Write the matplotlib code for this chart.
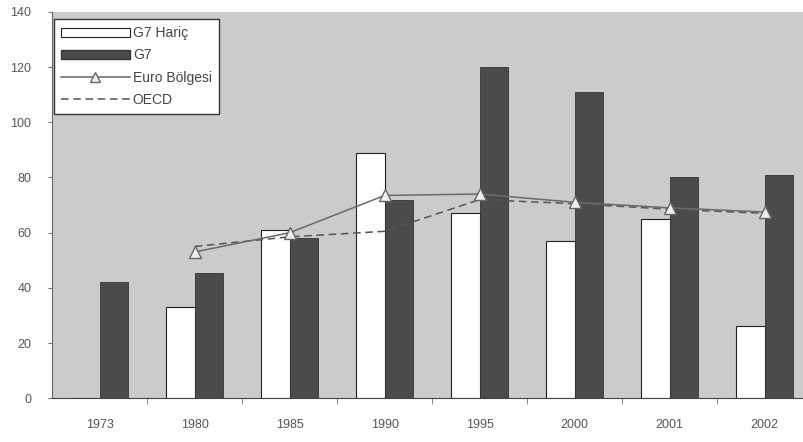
import matplotlib.pyplot as plt
import numpy as np
from matplotlib.lines import Line2D
from matplotlib.patches import Patch

yillar = ['1973', '1980', '1985', '1990', '1995', '2000', '2001', '2002']
g7_haric = [0, 33, 61, 89, 67, 57, 65, 26]
g7 = [42, 45.5, 58, 72, 120, 111, 80, 81]
euro = [np.nan, 53, 60, 73.5, 74, 71, 69, 67.5]
oecd = [np.nan, 55, 58.5, 60.5, 72, 70.5, 68.5, 67]

plt.rcParams['font.family'] = ['Liberation Sans', 'DejaVu Sans']

fig = plt.figure(figsize=(8.04, 4.42), dpi=100)
ax = fig.add_axes([0.065, 0.099, 0.945, 0.874])
ax.set_facecolor('#cbcbcb')

x = np.arange(len(yillar))
w = 0.3
ax.bar(x - w / 2, g7_haric, width=w, color='white', edgecolor='#222222', linewidth=0.8)
ax.bar(x + w / 2, g7, width=w, color='#4b4b4b', edgecolor='#333333', linewidth=0.6)
ax.plot(x, oecd, linestyle='--', color='#555555', linewidth=1.1, dashes=(5, 3))
ax.plot(x, euro, linestyle='-', color='#6a6a6a', linewidth=1.1,
        marker='^', markersize=8, markerfacecolor='#eeeeee', markeredgecolor='#666666')

ax.set_xlim(-0.5, len(yillar) - 0.5)
ax.set_ylim(0, 140)
ax.set_yticks(np.arange(0, 141, 20))
ax.set_xticks(x)
ax.set_xticklabels(yillar)
ax.set_xticks(np.arange(0.5, len(yillar) - 0.5, 1), minor=True)
ax.tick_params(axis='x', which='major', length=0, pad=15, labelsize=9, labelcolor='#555555')
ax.tick_params(axis='x', which='minor', length=4, direction='out', color='#777777')
ax.tick_params(axis='y', length=3, pad=12, labelsize=9, labelcolor='#555555', color='#777777')
for s in ['top', 'right']:
    ax.spines[s].set_visible(False)
ax.spines['left'].set_color('#666666')
ax.spines['bottom'].set_color('#444444')

handles = [
    Patch(facecolor='white', edgecolor='#222222', linewidth=0.8),
    Patch(facecolor='#4b4b4b', edgecolor='#333333'),
    Line2D([], [], color='#666666', linewidth=1.1, marker='^', markersize=7,
           markerfacecolor='#eeeeee', markeredgecolor='#666666'),
    Line2D([], [], color='#555555', linewidth=1.1, linestyle='--', dashes=(5, 3)),
]
etiketler = ['G7 Hariç', 'G7', 'Euro Bölgesi', 'OECD']
leg = ax.legend(handles, etiketler, loc='upper left', bbox_to_anchor=(0.0, 0.985),
                frameon=True, fancybox=False, edgecolor='#333333', framealpha=1,
                fontsize=10, handlelength=5, handleheight=0.6, handletextpad=0.2,
                borderpad=0.5, labelspacing=0.6, borderaxespad=0.1)
for t in leg.get_texts():
    t.set_color('#444444')

fig.savefig('out.png', dpi=100)
